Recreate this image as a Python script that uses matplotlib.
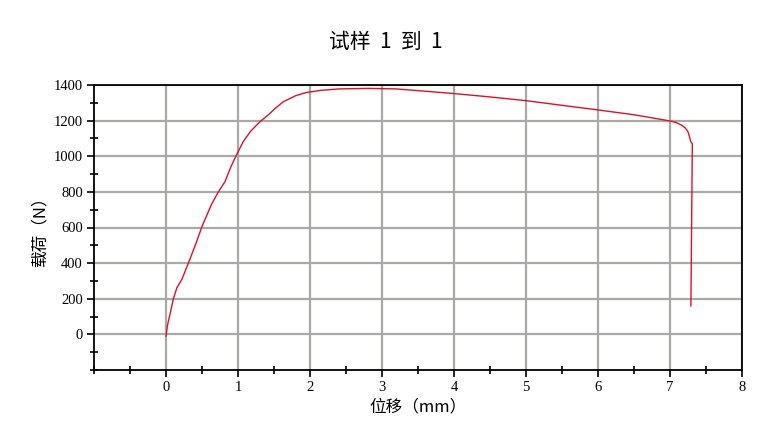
import matplotlib
matplotlib.use("Agg")
import matplotlib.pyplot as plt
from matplotlib.ticker import MultipleLocator

plt.rcParams['font.family'] = ['Liberation Serif', 'Noto Sans CJK SC', 'DejaVu Sans']

# displacement (mm) and load (N)
disp = [0.0, 0.02, 0.06, 0.10, 0.15, 0.22, 0.33, 0.42, 0.50, 0.63, 0.72, 0.82,
        0.90, 0.98, 1.07, 1.17, 1.30, 1.42, 1.52, 1.63, 1.80, 1.95, 2.15, 2.40,
        2.80, 3.20, 4.00, 4.50, 5.00, 6.00, 6.50, 7.00, 7.08, 7.16, 7.21, 7.25,
        7.27, 7.29, 7.31, 7.30, 7.29]
load = [-10, 50, 121, 196, 261, 308, 420, 515, 606, 728, 795, 858,
        940, 1008, 1080, 1138, 1192, 1232, 1270, 1306, 1340, 1358, 1370, 1378,
        1381, 1378, 1352, 1333, 1312, 1260, 1233, 1198, 1190, 1175, 1160, 1137,
        1110, 1081, 1070, 600, 160]

title = "试样  1  到  1"
xlabel = "位移（mm）"
ylabel = "载荷（N）"
xticks = [0, 1, 2, 3, 4, 5, 6, 7, 8]
yticks = [0, 200, 400, 600, 800, 1000, 1200, 1400]

fig = plt.figure(figsize=(7.82, 4.30), dpi=100)
ax = fig.add_axes([94/782, 1-370/430, (742-94)/782, (370-85)/430])

ax.plot(disp, load, color='#e0102a', lw=1.0, zorder=3)

ax.set_xlim(-1, 8)
ax.set_ylim(-200, 1400)
ax.set_xticks(xticks)
ax.set_yticks(yticks)
ax.xaxis.set_minor_locator(MultipleLocator(0.5))
ax.yaxis.set_minor_locator(MultipleLocator(100))
ax.grid(True, which='major', color='#aaaaa4', lw=1.6, zorder=0)
ax.set_axisbelow(True)

for s in ax.spines.values():
    s.set_color('black')
    s.set_linewidth(1.3)

ax.tick_params(which='major', direction='out', length=5, width=1.2,
               labelsize=10.5, pad=3)
ax.tick_params(which='minor', direction='inout', length=6, width=1.2)
ax.tick_params(top=False, right=False)

ax.set_xlabel(xlabel, fontsize=12, family=['Noto Sans CJK SC', 'Liberation Serif'], labelpad=3)
ax.set_ylabel(ylabel, fontsize=12, family=['Noto Sans CJK SC', 'Liberation Serif'], labelpad=4)

fig.text(386/782, 1-42/430, title, ha='center', va='center', fontsize=15,
         family=['Noto Sans CJK SC', 'Liberation Serif'])

fig.savefig('out.png', dpi=100)
